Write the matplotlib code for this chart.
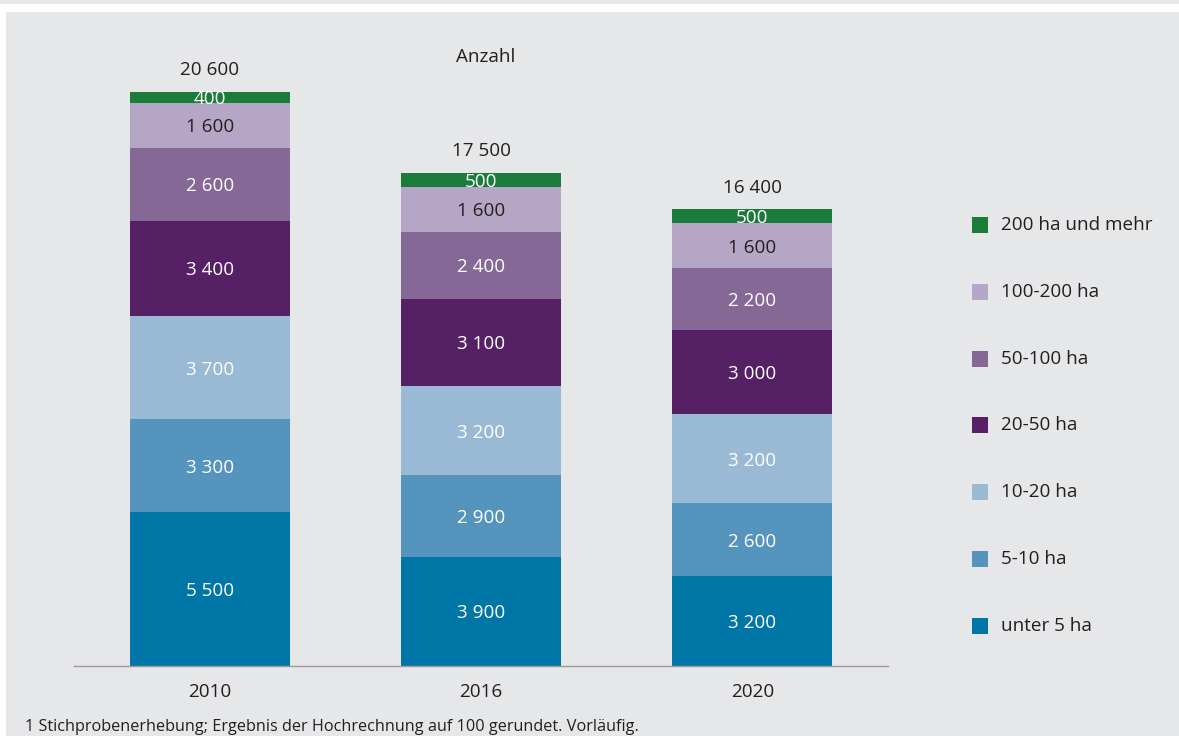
import matplotlib
matplotlib.use("Agg")
import matplotlib.pyplot as plt
from matplotlib.patches import Rectangle
import numpy as np

plt.rcParams['font.family'] = ['Open Sans', 'DejaVu Sans']

years = ["2010", "2016", "2020"]
categories = ["unter 5 ha", "5-10 ha", "10-20 ha", "20-50 ha", "50-100 ha", "100-200 ha", "200 ha und mehr"]
unter5 = [5500, 3900, 3200]
ha5_10 = [3300, 2900, 2600]
ha10_20 = [3700, 3200, 3200]
ha20_50 = [3400, 3100, 3000]
ha50_100 = [2600, 2400, 2200]
ha100_200 = [1600, 1600, 1600]
ha200plus = [400, 500, 500]
totals = [20600, 17500, 16400]
title = "Anzahl"
footnote = "1 Stichprobenerhebung; Ergebnis der Hochrechnung auf 100 gerundet. Vorläufig."

series = [unter5, ha5_10, ha10_20, ha20_50, ha50_100, ha100_200, ha200plus]
colors = ["#0076a6", "#5595bd", "#9ab9d4", "#552164", "#856896", "#b6a6c6", "#1b7c3a"]
text_colors = ["white", "white", "white", "white", "white", "#231f20", "white"]
BG = "#e6e7e9"
DARK = "#231f20"
FS = 13.6

def fmt(v):
    return f"{v:,}".replace(",", " ")

W, H = 1179, 736
fig = plt.figure(figsize=(W / 100, H / 100), dpi=100)
fig.patch.set_facecolor("white")
fig.add_artist(Rectangle((6 / W, 0), 1 - 6 / W, (H - 12) / H, transform=fig.transFigure,
                         facecolor=BG, edgecolor="none", zorder=-10))
fig.add_artist(Rectangle((0, (H - 4) / H), 1, 4 / H, transform=fig.transFigure,
                         facecolor=BG, edgecolor="none", zorder=-10))

ax = fig.add_axes([74 / W, 70 / H, 814 / W, 636 / H])
ax.set_facecolor("none")
x = np.arange(len(years))
bottom = np.zeros(len(years))
for vals, c, tc in zip(series, colors, text_colors):
    vals = np.array(vals, dtype=float)
    ax.bar(x, vals, bottom=bottom, width=0.59, color=c, edgecolor="none")
    for xi, b, v in zip(x, bottom, vals):
        ax.text(xi, b + v / 2, fmt(int(v)), ha="center", va="center_baseline",
                color=tc, fontsize=FS)
    bottom += vals

for xi, top, t in zip(x, bottom, totals):
    ax.annotate(fmt(t), (xi, top), xytext=(0, 17), textcoords="offset points",
                ha="center", va="center_baseline", color=DARK, fontsize=FS)

ax.set_xlim(-0.5, 2.5)
ax.set_ylim(0, 22700)
ax.set_xticks(x)
ax.set_xticklabels(years, fontsize=FS, color=DARK)
ax.tick_params(axis="x", length=0, pad=12)
ax.set_yticks([])
for s in ["top", "right", "left"]:
    ax.spines[s].set_visible(False)
ax.spines["bottom"].set_color("#9a9a9a")
ax.spines["bottom"].set_linewidth(1)

fig.text(486 / W, 1 - 57 / H, title, ha="center", va="center", fontsize=FS, color=DARK)

rows_y = [225, 292, 359, 425, 492, 559, 626]
for lab, c, yy in zip(categories[::-1], colors[::-1], rows_y):
    fig.add_artist(Rectangle((972 / W, 1 - (yy + 8) / H), 16 / W, 16 / H,
                             transform=fig.transFigure, facecolor=c, edgecolor="none"))
    fig.text(1001 / W, 1 - yy / H, lab, ha="left", va="center", fontsize=FS, color=DARK)

fig.text(25 / W, 1 - 727 / H, footnote, ha="left", va="center", fontsize=11.7, color=DARK)

fig.savefig("out.png", dpi=100, facecolor=fig.get_facecolor())
